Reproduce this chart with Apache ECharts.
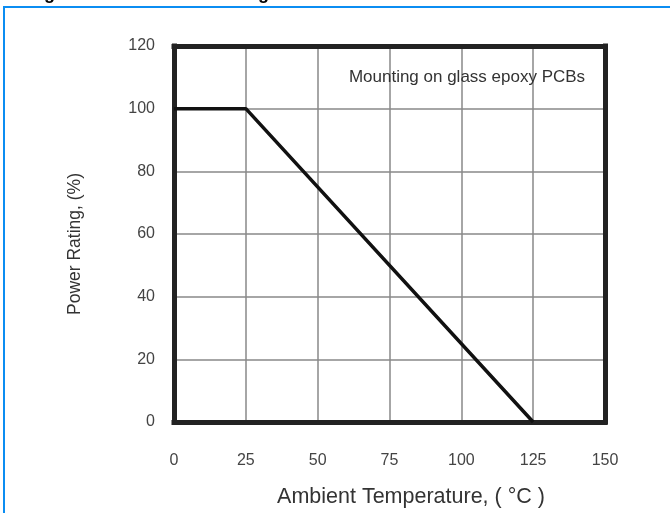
<!DOCTYPE html>
<html>
<head>
<meta charset="utf-8">
<script src="https://cdn.jsdelivr.net/npm/echarts@6/dist/echarts.min.js"></script>
<style>
html,body{margin:0;padding:0;background:#fff;}
#c{width:670px;height:513px;}
</style>
</head>
<body>
<div id="c"></div>
<script>
// Data
var temperatures = [0, 25, 125];
var powerRating = [100, 100, 0];
var xTicks = [0, 25, 50, 75, 100, 125, 150];
var yTicks = [0, 20, 40, 60, 80, 100, 120];
var xTitle = 'Ambient Temperature, ( \u00B0C )';
var yTitle = 'Power Rating, (%)';
var noteText = 'Mounting on glass epoxy PCBs';

var chart = echarts.init(document.getElementById('c'), null, {renderer: 'canvas'});
var font = 'Arial, "Liberation Sans", Helvetica, sans-serif';
var points = temperatures.map(function (t, i) { return [t, powerRating[i]]; });

var frameLine = {show: true, onZero: false, lineStyle: {color: '#222', width: 5, cap: 'square'}};
var xMin = xTicks[0], xMax = xTicks[xTicks.length - 1];
var yMin = yTicks[0], yMax = yTicks[yTicks.length - 1];

chart.setOption({
  animation: false,
  backgroundColor: '#ffffff',
  grid: {left: 174, right: 65, top: 46, bottom: 91},
  xAxis: [{
    type: 'value', min: xMin, max: xMax, interval: 25, position: 'bottom',
    axisLine: frameLine, axisTick: {show: false},
    splitLine: {show: true, lineStyle: {color: '#888', width: 1.5}},
    axisLabel: {margin: 31, color: '#444', fontSize: 16, fontFamily: font, showMinLabel: true, showMaxLabel: true}
  }, {
    type: 'value', min: xMin, max: xMax, interval: 25, position: 'top', z: 10,
    axisLine: frameLine, axisTick: {show: false}, splitLine: {show: false}, axisLabel: {show: false}
  }],
  yAxis: [{
    type: 'value', min: yMin, max: yMax, interval: 20, position: 'left',
    axisLine: frameLine, axisTick: {show: false},
    splitLine: {show: true, lineStyle: {color: '#888', width: 1.5}},
    axisLabel: {margin: 19, color: '#444', fontSize: 16, fontFamily: font}
  }, {
    type: 'value', min: yMin, max: yMax, interval: 20, position: 'right', z: 10,
    axisLine: frameLine, axisTick: {show: false}, splitLine: {show: false}, axisLabel: {show: false}
  }],
  series: [{
    type: 'line', data: points, symbol: 'none', xAxisIndex: 0, yAxisIndex: 0,
    lineStyle: {color: '#111', width: 3.5}, z: 5
  }],
  graphic: [
    {type: 'rect', shape: {x: 4, y: 7, width: 800, height: 700},
     style: {fill: 'none', stroke: '#0b8df2', lineWidth: 2}, z: 100},
    {type: 'text', x: 28, y: -15,
     style: {text: 'Fig', font: 'bold 18px ' + font, fill: '#000'}},
    {type: 'text', x: 196, y: -15,
     style: {text: 'Derating', font: 'bold 18px ' + font, fill: '#000'}},
    {type: 'text', x: 467, y: 77,
     style: {text: noteText, font: '17px ' + font, fill: '#333', textAlign: 'center', textVerticalAlign: 'middle'}, z: 10},
    {type: 'text', x: 411, y: 497,
     style: {text: xTitle, font: '21.5px ' + font, fill: '#333', textAlign: 'center', textVerticalAlign: 'middle'}},
    {type: 'text', x: 75, y: 244, rotation: Math.PI / 2,
     style: {text: yTitle, font: '17.5px ' + font, fill: '#333', textAlign: 'center', textVerticalAlign: 'middle'}}
  ]
});
</script>
</body>
</html>
